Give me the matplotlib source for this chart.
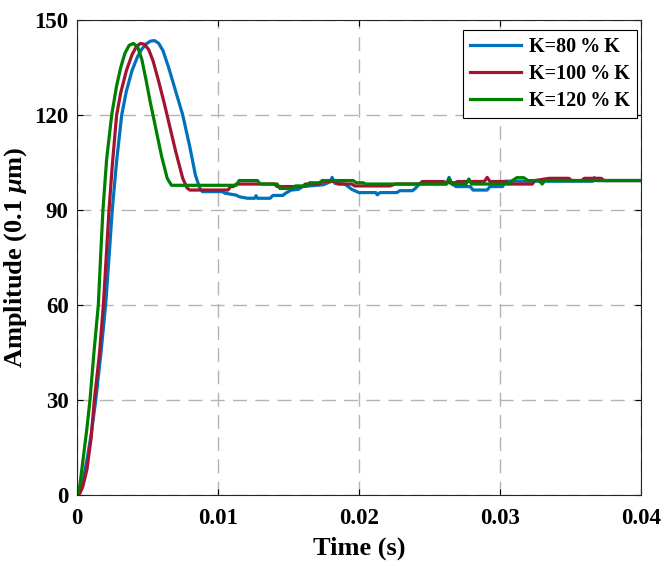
import numpy as np
import matplotlib
matplotlib.use("Agg")
import matplotlib.pyplot as plt

plt.rcParams['font.family'] = ['Liberation Serif', 'DejaVu Serif']
plt.rcParams['font.weight'] = 'bold'
plt.rcParams['mathtext.fontset'] = 'custom'
plt.rcParams['mathtext.rm'] = 'Liberation Serif:bold'
plt.rcParams['mathtext.it'] = 'Liberation Serif:italic:bold'
plt.rcParams['mathtext.bf'] = 'Liberation Serif:bold'

# K = 80%K
t_80 = [0, 0.0002, 0.0004, 0.0007, 0.001, 0.00133, 0.0017, 0.00203, 0.00227, 0.0025,
        0.0028, 0.00317, 0.0035, 0.0039, 0.0043, 0.0046, 0.0049, 0.0052, 0.0055, 0.0058,
        0.0061, 0.0065, 0.007, 0.0075, 0.008, 0.0084, 0.0087, 0.0089, 0.0103, 0.0105,
        0.0113, 0.0115, 0.0121, 0.0126, 0.0127, 0.0128, 0.0137, 0.0139, 0.0146, 0.0148,
        0.0152, 0.0157, 0.016, 0.0175, 0.018, 0.0181, 0.0183, 0.019, 0.0195, 0.02,
        0.0212, 0.0213, 0.0215, 0.0227, 0.0229, 0.0238, 0.024, 0.0243, 0.0262, 0.0264,
        0.0266, 0.0269, 0.0279, 0.0281, 0.0291, 0.0293, 0.0302, 0.0304, 0.0366, 0.0367,
        0.0369, 0.037, 0.04]
y_80 = [0, 1, 4, 11, 19, 30, 45, 60, 75, 90,
        105, 120, 127.5, 134, 138.5, 140.8, 142.4, 143.3, 143.5, 142.6,
        140.3, 135, 127.5, 120, 110, 101, 97, 95.8, 95.8, 95.3,
        94.7, 94.2, 93.7, 93.7, 94.5, 93.7, 93.7, 94.6, 94.6, 95.3,
        96.3, 96.5, 97.4, 98, 99, 100.3, 98.4, 98.2, 96.5, 95.5,
        95.5, 94.8, 95.5, 95.5, 96.1, 96.1, 96.8, 98.2, 98.2, 100.3,
        98.2, 97.4, 97.4, 96.3, 96.3, 97.4, 97.4, 99.1, 99.1, 100.2,
        99.3, 99.3, 99.3]

# K = 100%K
t_100 = [0, 0.0002, 0.0004, 0.0007, 0.001, 0.00123, 0.0016, 0.00187, 0.00207, 0.00227,
         0.0025, 0.00281, 0.0031, 0.0035, 0.0039, 0.0042, 0.0045, 0.0048, 0.0051, 0.0054,
         0.0058, 0.0062, 0.0066, 0.007, 0.0075, 0.0078, 0.008, 0.0107, 0.0109, 0.0111,
         0.0113, 0.014, 0.0142, 0.016, 0.0162, 0.0172, 0.0174, 0.0183, 0.0185, 0.0195,
         0.0197, 0.0222, 0.0226, 0.0243, 0.0245, 0.026, 0.0262, 0.0268, 0.027, 0.028,
         0.0289, 0.0291, 0.0293, 0.0304, 0.0306, 0.0323, 0.0325, 0.0335, 0.0349, 0.0351,
         0.0358, 0.036, 0.0372, 0.0374, 0.04]
y_100 = [0, 0.5, 2.5, 8, 18, 30, 45, 60, 75, 90,
         104, 120, 127, 134, 139, 141.5, 142.6, 142.3, 140.5, 137,
         130.5, 123.5, 116, 108.5, 100, 97, 96.3, 96.3, 97.4, 97.4,
         98.2, 98.2, 97.4, 97.4, 98.2, 98.2, 99, 99, 98.2, 98.2,
         97.6, 97.6, 98.2, 98.2, 99, 99, 98.6, 98.6, 99, 99,
         99, 100.3, 99, 99, 98.2, 98.2, 99.3, 100, 100, 99.3,
         99.3, 100, 100, 99.3, 99.3]

# K = 120%K
t_120 = [0, 0.0002, 0.00045, 0.0007, 0.00092, 0.0012, 0.00151, 0.00167, 0.00184, 0.0021,
         0.00246, 0.0028, 0.0031, 0.0034, 0.0037, 0.004, 0.0043, 0.0046, 0.0049, 0.0052,
         0.0056, 0.006, 0.0064, 0.0067, 0.0113, 0.0115, 0.0128, 0.013, 0.0142, 0.0144,
         0.0153, 0.0155, 0.0163, 0.0165, 0.0172, 0.0174, 0.0196, 0.0198, 0.0203, 0.0205,
         0.0262, 0.0264, 0.0266, 0.0276, 0.0278, 0.028, 0.0306, 0.0309, 0.0312, 0.0317,
         0.032, 0.0328, 0.033, 0.0332, 0.04]
y_120 = [0, 3, 12, 21, 30, 45, 60, 75, 90, 106,
         120, 129, 135, 139.5, 142, 142.6, 141.5, 137.5, 131, 124,
         115.5, 107, 100, 97.8, 97.8, 99.3, 99.3, 98.2, 98.2, 96.8,
         96.8, 97.6, 97.6, 98.6, 98.6, 99.3, 99.3, 98.6, 98.6, 98.2,
         98.2, 99.8, 98.2, 98.2, 99.8, 98.2, 98.2, 99.3, 100.2, 100.2,
         99.3, 99.3, 98.2, 99.3, 99.3]

labels = ['K=80\u2009%\u2009K', 'K=100\u2009%\u2009K', 'K=120\u2009%\u2009K']
colors = ['#0072BD', '#A2142F', '#008000']

fig = plt.figure(figsize=(6.64, 5.66), dpi=100)
ax = fig.add_axes([0.116, 0.1254, 0.849, 0.8393])

ax.plot(t_80, y_80, color=colors[0], lw=2.3, label=labels[0])
ax.plot(t_100, y_100, color=colors[1], lw=2.3, label=labels[1])
ax.plot(t_120, y_120, color=colors[2], lw=2.3, label=labels[2])

ax.set_xlim(0, 0.04)
ax.set_ylim(0, 150)
ax.set_xticks([0, 0.01, 0.02, 0.03, 0.04])
ax.set_xticklabels(['0', '0.01', '0.02', '0.03', '0.04'])
ax.set_yticks([0, 30, 60, 90, 120, 150])
ax.tick_params(direction='in', top=True, right=True, labelsize=16.5, length=4, width=0.8, pad=6)
ax.tick_params(axis='x', pad=9)
for lab in ax.get_xticklabels() + ax.get_yticklabels():
    lab.set_fontweight('bold')
ax.grid(True, linestyle=(0, (10, 6)), color='#b4b4b4', linewidth=1.0)
for s in ax.spines.values():
    s.set_linewidth(0.8)
    s.set_color('#262626')

ax.set_xlabel('Time (s)', fontsize=19, fontweight='bold', labelpad=6)
ax.set_ylabel('Amplitude (0.1 $\\mu$m)', fontsize=19, fontweight='bold', labelpad=4)

leg = ax.legend(loc='upper right', bbox_to_anchor=(0.993, 0.979), fontsize=14.5,
                fancybox=False, edgecolor='black', framealpha=1, handlelength=2.5,
                borderaxespad=0, labelspacing=0.34, borderpad=0.35, handletextpad=0.4)
leg.get_frame().set_linewidth(0.8)
for txt in leg.get_texts():
    txt.set_fontweight('bold')

fig.savefig('out.png', dpi=100)
